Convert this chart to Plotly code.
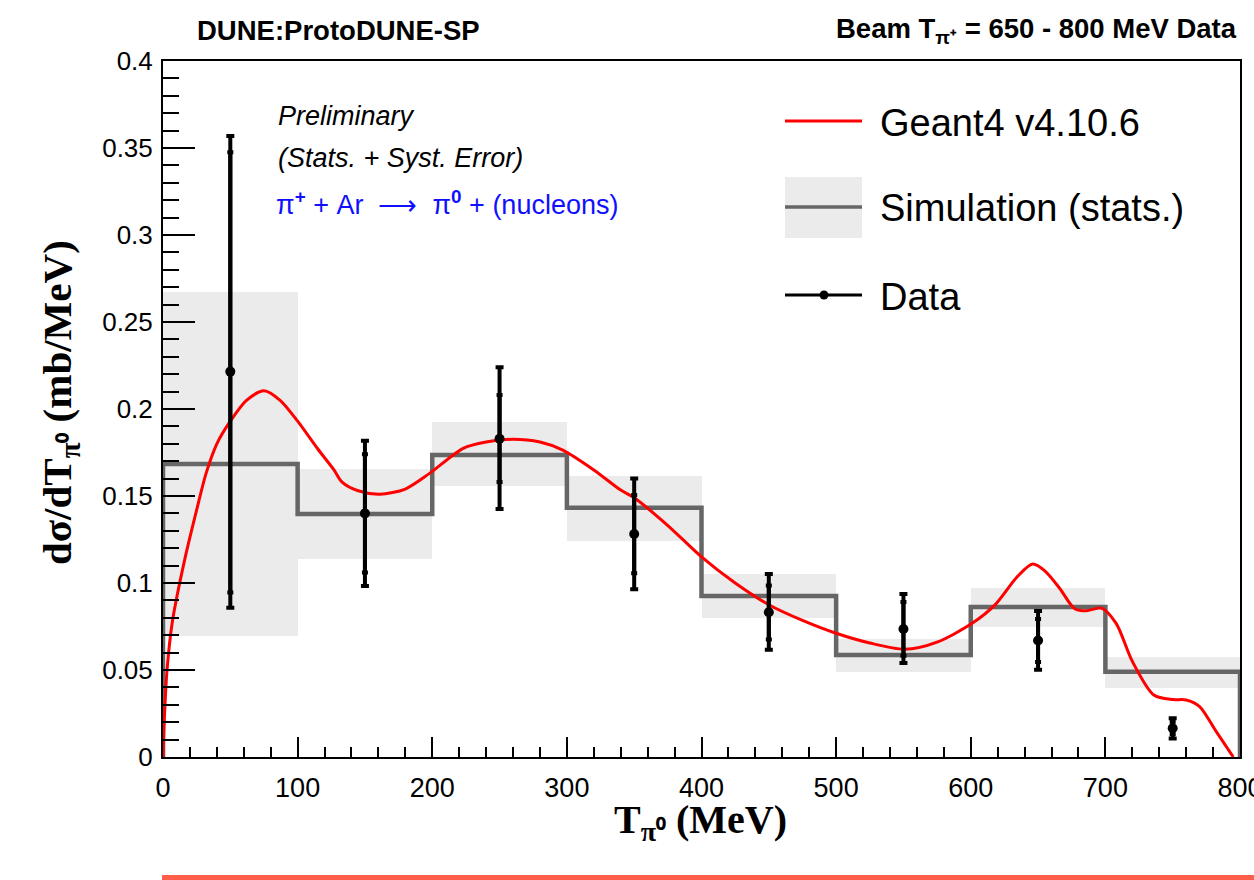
import plotly.graph_objects as go

# ---------------- data ----------------
bin_edges = [0, 100, 200, 300, 400, 500, 600, 700, 800]
bin_centers = [50, 150, 250, 350, 450, 550, 650, 750]

sim_values = [0.1684, 0.1397, 0.1736, 0.1433, 0.0925, 0.0586, 0.0862, 0.0490]
sim_band_hi = [0.267, 0.1655, 0.1925, 0.1617, 0.1052, 0.0678, 0.0973, 0.0576]
sim_band_lo = [0.0695, 0.1138, 0.1557, 0.1241, 0.0799, 0.0489, 0.0749, 0.0398]

data_values = [0.2215, 0.1400, 0.1829, 0.1282, 0.0832, 0.0736, 0.0670, 0.0165]
data_total_hi = [0.3569, 0.1818, 0.2240, 0.1600, 0.1052, 0.0937, 0.0839, 0.0222]
data_total_lo = [0.0858, 0.0983, 0.1425, 0.0964, 0.0617, 0.0540, 0.0502, 0.0107]
data_stat_hi = [0.3475, 0.1740, 0.2080, 0.1506, 0.0985, 0.0891, 0.0793, 0.0203]
data_stat_lo = [0.0946, 0.1061, 0.1580, 0.1056, 0.0676, 0.0582, 0.0546, 0.0132]

g4_x = [0, 1, 3, 7, 16, 25, 32, 40, 50, 62, 75, 87, 100, 115, 127, 133, 145, 161,
        180, 198, 223, 240, 260, 280, 297, 320, 340, 350, 375, 400, 425, 450, 475,
        500, 525, 551, 575, 601, 618, 635, 646, 655, 666, 677, 686, 697, 708, 720,
        736, 750, 760, 770, 782, 795]
g4_y = [0.0, 0.022, 0.05, 0.078, 0.113, 0.142, 0.163, 0.180, 0.193, 0.205, 0.2105,
        0.205, 0.193, 0.177, 0.165, 0.158, 0.153, 0.151, 0.154, 0.163, 0.1774, 0.181,
        0.1826, 0.181, 0.1764, 0.165, 0.1534, 0.149, 0.133, 0.115, 0.1, 0.0875,
        0.0785, 0.0711, 0.0655, 0.0619, 0.066, 0.0768, 0.0874, 0.104, 0.1109, 0.107,
        0.097, 0.0854, 0.084, 0.0856, 0.0768, 0.055, 0.0356, 0.033, 0.0328, 0.029,
        0.015, 0.0]

x_ticks = [0, 100, 200, 300, 400, 500, 600, 700, 800]

# ---------------- figure ----------------
fig = go.Figure()

# simulation stat band
fig.add_trace(go.Bar(
    x=bin_centers,
    y=[h - l for h, l in zip(sim_band_hi, sim_band_lo)],
    base=sim_band_lo,
    width=[e2 - e1 for e1, e2 in zip(bin_edges[:-1], bin_edges[1:])],
    marker=dict(color="#EBEBEB", line=dict(width=0)),
    showlegend=False, hoverinfo="skip",
))

# simulation step histogram
step_x = [bin_edges[0]] + bin_edges[:-1] + [bin_edges[-1], bin_edges[-1]]
step_y = [0] + sim_values + [sim_values[-1], 0]
fig.add_trace(go.Scatter(
    x=step_x, y=step_y, mode="lines", line=dict(color="#666666", width=4.5, shape="hv"),
    showlegend=False, hoverinfo="skip",
))

# Geant4 curve
fig.add_trace(go.Scatter(
    x=g4_x, y=g4_y, mode="lines",
    line=dict(color="#FF0000", width=3, shape="spline", smoothing=0.8),
    showlegend=False, hoverinfo="skip",
))

# data: total error
fig.add_trace(go.Scatter(
    x=bin_centers, y=data_values, mode="markers",
    marker=dict(color="black", size=1),
    error_y=dict(type="data", symmetric=False,
                 array=[h - v for h, v in zip(data_total_hi, data_values)],
                 arrayminus=[v - l for l, v in zip(data_total_lo, data_values)],
                 color="black", thickness=4, width=4),
    showlegend=False, hoverinfo="skip",
))
# data: stat error
fig.add_trace(go.Scatter(
    x=bin_centers, y=data_values, mode="markers",
    marker=dict(color="black", size=10),
    error_y=dict(type="data", symmetric=False,
                 array=[h - v for h, v in zip(data_stat_hi, data_values)],
                 arrayminus=[v - l for l, v in zip(data_stat_lo, data_values)],
                 color="black", thickness=4, width=3),
    showlegend=False, hoverinfo="skip",
))

L, R, T, B = 163, 14, 61, 123
W, H = 1254, 880
pw, ph = W - L - R, H - T - B


def px(xp):
    return (xp - L) / pw


def py(yp):
    return (H - B - yp) / ph


sans = "Liberation Sans, Arial, Helvetica, sans-serif"
serif = "Liberation Serif, Times New Roman, serif"

shapes = [
    # legend: Geant4
    dict(type="line", xref="paper", yref="paper", x0=px(785), x1=px(862), y0=py(121), y1=py(121),
         line=dict(color="#FF0000", width=3)),
    # legend: simulation
    dict(type="rect", xref="paper", yref="paper", x0=px(785), x1=px(862), y0=py(238), y1=py(177),
         fillcolor="#EBEBEB", line=dict(width=0)),
    dict(type="line", xref="paper", yref="paper", x0=px(785), x1=px(862), y0=py(207), y1=py(207),
         line=dict(color="#666666", width=3.5)),
    # legend: data
    dict(type="line", xref="paper", yref="paper", x0=px(785), x1=px(862), y0=py(295), y1=py(295),
         line=dict(color="black", width=3)),
    dict(type="circle", xref="paper", yref="paper", xsizemode="pixel", ysizemode="pixel",
         xanchor=px(824), yanchor=py(295), x0=-4.5, x1=4.5, y0=-4.5, y1=4.5,
         fillcolor="black", line=dict(width=0)),
    # decorative bottom bar
    dict(type="rect", xref="paper", yref="paper", x0=px(162), x1=px(1254), y0=py(880), y1=py(875),
         fillcolor="#FF5F4A", line=dict(width=0)),
]

annotations = [
    dict(text="DUNE:ProtoDUNE-SP", xref="paper", yref="paper", x=px(338), y=py(30),
         xanchor="center", yanchor="middle", showarrow=False,
         font=dict(family=sans, size=27.5, color="black", weight="bold")),
    dict(text="Beam T<sub>π⁺</sub> = 650 - 800 MeV Data", xref="paper", yref="paper",
         x=px(1239), y=py(30), xanchor="right", yanchor="middle", showarrow=False,
         font=dict(family=sans, size=27.5, color="black", weight="bold")),
    dict(text="<i>Preliminary</i>", xref="paper", yref="paper", x=px(276), y=py(116),
         xanchor="left", yanchor="middle", showarrow=False,
         font=dict(family=sans, size=27, color="black")),
    dict(text="<i>(Stats. + Syst. Error)</i>", xref="paper", yref="paper", x=px(276), y=py(158),
         xanchor="left", yanchor="middle", showarrow=False,
         font=dict(family=sans, size=27, color="black")),
    dict(text="π<b><sup>+</sup></b> + Ar  ⟶  π<b><sup>0</sup></b> + (nucleons)", xref="paper", yref="paper",
         x=px(274), y=py(203), xanchor="left", yanchor="middle", showarrow=False,
         font=dict(family=sans, size=27, color="#1010FF")),
    dict(text="Geant4 v4.10.6", xref="paper", yref="paper", x=px(878), y=py(123),
         xanchor="left", yanchor="middle", showarrow=False,
         font=dict(family=sans, size=38, color="black")),
    dict(text="Simulation (stats.)", xref="paper", yref="paper", x=px(878), y=py(208),
         xanchor="left", yanchor="middle", showarrow=False,
         font=dict(family=sans, size=38, color="black")),
    dict(text="Data", xref="paper", yref="paper", x=px(878), y=py(297),
         xanchor="left", yanchor="middle", showarrow=False,
         font=dict(family=sans, size=38, color="black")),
    dict(text="dσ/dT<sub>π⁰</sub> (mb/MeV)", xref="paper", yref="paper", x=px(60), y=py(403),
         xanchor="center", yanchor="middle", textangle=-90, showarrow=False,
         font=dict(family=serif, size=41, color="black", weight="bold")),
    dict(text="T<sub>π⁰</sub> (MeV)", xref="paper", yref="paper", x=px(700), y=py(822),
         xanchor="center", yanchor="middle", showarrow=False,
         font=dict(family=serif, size=40, color="black", weight="bold")),
]

fig.update_layout(
    width=W, height=H,
    margin=dict(l=L, r=R, t=T, b=B, pad=0, autoexpand=False),
    paper_bgcolor="white", plot_bgcolor="white",
    showlegend=False, bargap=0,
    shapes=shapes, annotations=annotations,
    xaxis=dict(
        range=[0, 800], tickmode="array", tickvals=x_ticks, ticktext=[str(v) for v in x_ticks],
        ticks="inside", ticklen=20, tickwidth=1.5, tickcolor="black",
        minor=dict(dtick=20, tick0=0, ticks="inside", ticklen=10, tickwidth=1.5, tickcolor="black"),
        showline=True, linecolor="black", linewidth=2, mirror=True,
        showgrid=False, zeroline=False, automargin=False,
        tickfont=dict(family=sans, size=27, color="black"),
        ticklabelstandoff=6, ticklabeloverflow="allow",
    ),
    yaxis=dict(
        range=[0, 0.4], tick0=0, dtick=0.05,
        ticks="inside", ticklen=32, tickwidth=1.5, tickcolor="black",
        minor=dict(dtick=0.01, tick0=0, ticks="inside", ticklen=16, tickwidth=1.5, tickcolor="black"),
        showline=True, linecolor="black", linewidth=2, mirror=True,
        showgrid=False, zeroline=False, automargin=False,
        tickfont=dict(family=sans, size=26, color="black"),
        ticklabelstandoff=3, ticklabeloverflow="allow",
    ),
)

fig.write_html("out.html")
